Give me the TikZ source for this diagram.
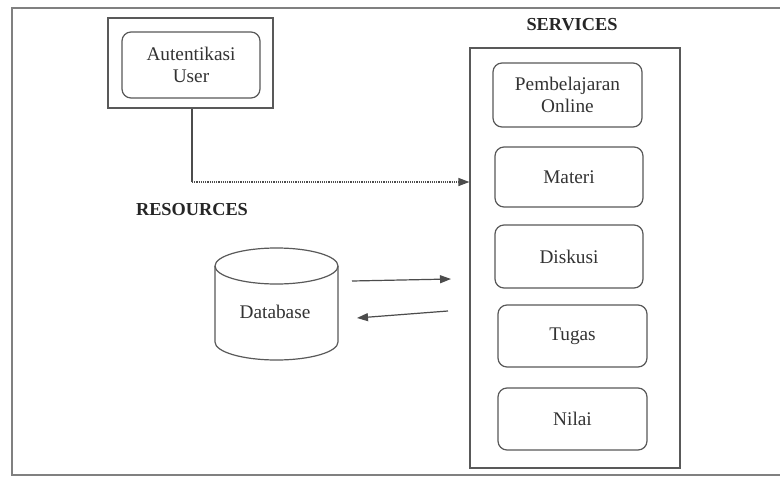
\documentclass[tikz,border=0pt]{standalone}
\usepackage{fontspec}
\setmainfont{Liberation Serif}
\usetikzlibrary{arrows.meta}
\tikzset{
  frameline/.style={draw=black!50, line width=1.1pt},
  boxline/.style={draw=black!65, line width=1.2pt},
  outerbox/.style={boxline, rectangle, inner sep=0pt},
  svcbox/.style={boxline, rectangle, rounded corners=9pt, inner sep=0pt,
    align=center, text=black!80, font=\fontsize{19.3}{22}\selectfont},
  heading/.style={font=\bfseries\fontsize{18.3}{20}\selectfont, text=black!85},
  link/.style={draw=black!70, line width=1.2pt},
  tip/.style={-{Triangle[length=11pt,width=8pt]}}
}
\begin{document}
\begin{tikzpicture}[x=1pt,y=-1pt]
\useasboundingbox (0,0) rectangle (780,477);
\fill[white] (0,0) rectangle (780,477);

% page frame (open on the right)
\draw[frameline] (780,8) -- (12,8) -- (12,475) -- (780,475);

% authentication block
\node[outerbox, minimum width=165pt, minimum height=90pt] (authframe) at (190.5,63) {};
\node[svcbox, minimum width=138pt, minimum height=66pt] (auth) at (191,65) {Autentikasi\\User};

% services block
\node[heading] (svctitle) at (572,25) {SERVICES};
\node[outerbox, minimum width=210pt, minimum height=420pt] (services) at (575,258) {};
\node[svcbox, minimum width=149pt, minimum height=64pt] (online) at (567.5,95) {Pembelajaran\\Online};
\node[svcbox, minimum width=148pt, minimum height=60pt] (materi) at (569,177) {Materi};
\node[svcbox, minimum width=148pt, minimum height=63pt] (diskusi) at (569,256.5) {Diskusi};
\node[svcbox, minimum width=149pt, minimum height=62pt] (tugas) at (572.5,336) {Tugas};
\node[svcbox, minimum width=149pt, minimum height=62pt] (nilai) at (572.5,419) {Nilai};

% resources block: database cylinder
\node[heading] (restitle) at (192,210) {RESOURCES};
\draw[boxline] (215,266) -- (215,342) arc (180:360:61.5pt and 18pt) -- (338,266);
\draw[boxline] (276.5,266) ellipse (61.5pt and 18pt);
\node[text=black!80, font=\fontsize{19.3}{22}\selectfont] (db) at (275,312) {Database};

% authentication feeds the services
\coordinate (corner) at (192,182);
\draw[link] (authframe.south -| corner) -- (corner);
\draw[link, densely dotted, tip] (corner) -- (corner -| services.west);

% data exchange between database and services
\coordinate (toS) at (352,281);
\coordinate (toSend) at (451,279);
\coordinate (toD) at (448,311);
\coordinate (toDend) at (357,318);
\draw[link, tip] (toS) -- (toSend);
\draw[link, tip] (toD) -- (toDend);
\end{tikzpicture}
\end{document}
